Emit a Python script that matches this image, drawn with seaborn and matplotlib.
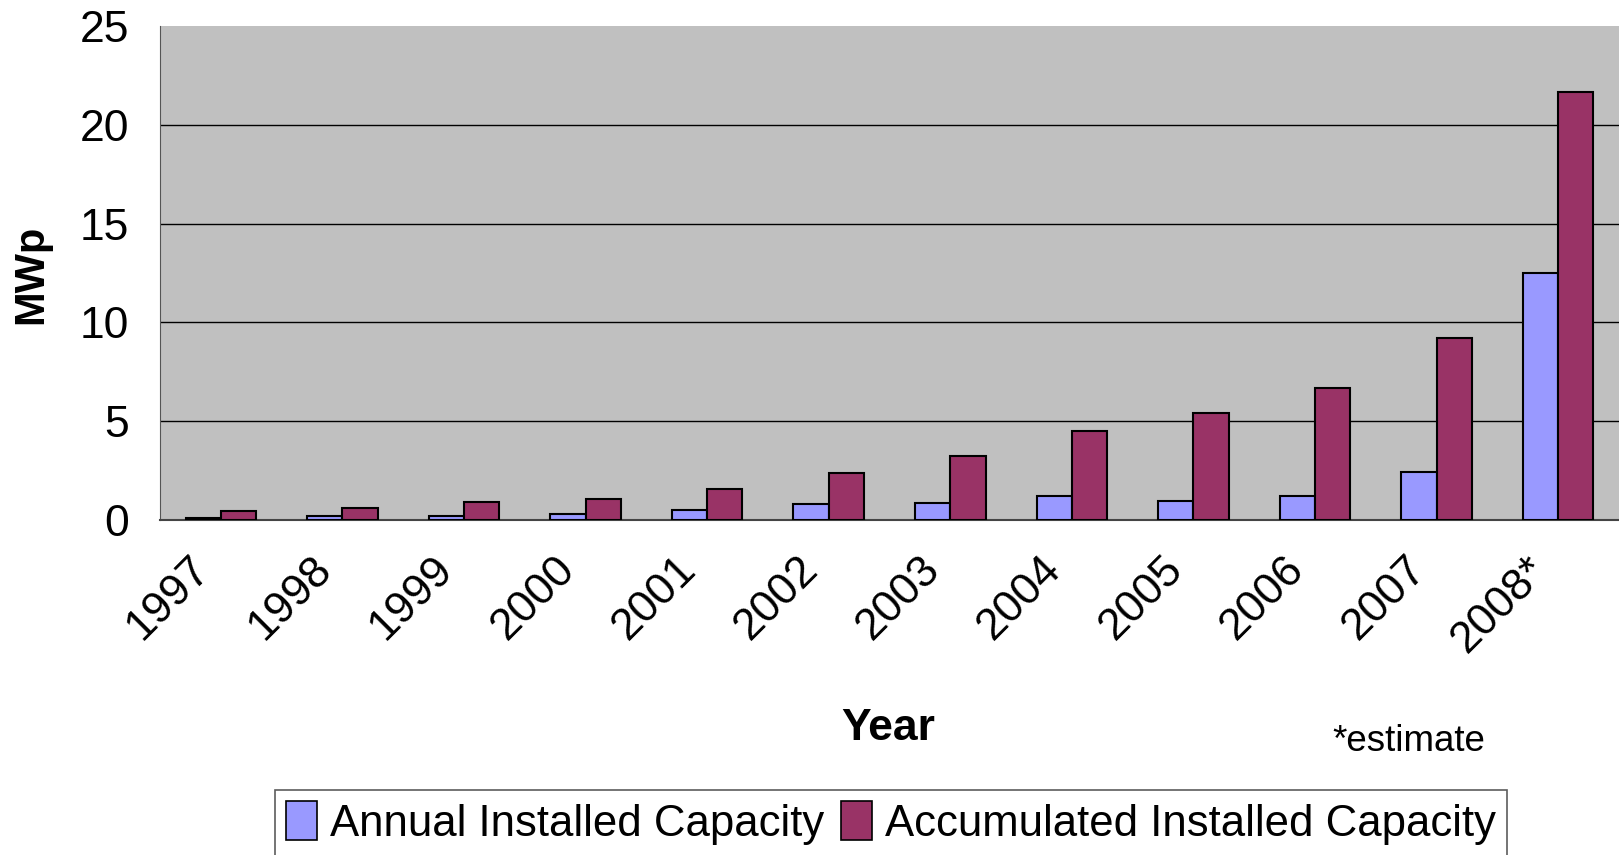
import numpy as np
import pandas as pd
import matplotlib
matplotlib.use("Agg")
import matplotlib.pyplot as plt
import matplotlib.transforms as mtransforms
import seaborn as sns
from matplotlib.patches import Patch

# values (MWp)
years = ["1997", "1998", "1999", "2000", "2001", "2002",
         "2003", "2004", "2005", "2006", "2007", "2008*"]
annual = [0.1, 0.2, 0.2, 0.29, 0.52, 0.79, 0.88, 1.22, 0.98, 1.22, 2.43, 12.5]
accumulated = [0.47, 0.63, 0.9, 1.06, 1.59, 2.36, 3.24, 4.48, 5.44, 6.66, 9.19, 21.67]
series = ["Annual Installed Capacity", "Accumulated Installed Capacity"]
colors = ["#9999FF", "#993366"]

df = pd.DataFrame({
    "Year": years * 2,
    "MWp": annual + accumulated,
    "Series": [series[0]] * len(years) + [series[1]] * len(years),
})

sns.set_style("white")
plt.rcParams["font.family"] = ["Liberation Sans", "DejaVu Sans"]
plt.rcParams["text.color"] = "black"
plt.rcParams["xtick.color"] = "black"
plt.rcParams["ytick.color"] = "black"

W, H = 1619, 855
fig = plt.figure(figsize=(W / 100, H / 100), dpi=100)
ax = fig.add_axes([160 / W, (H - 520) / H, (1619 - 160) / W, (520 - 26) / H])
ax.set_facecolor("#C0C0C0")

sns.barplot(data=df, x="Year", y="MWp", hue="Series", palette=colors,
            width=0.58, gap=0, edgecolor="black", linewidth=1.5,
            saturation=1, ax=ax, legend=False, zorder=3)

ax.set_ylim(0, 25)
ax.set_xlim(-0.5, len(years) - 0.5)
ax.set_yticks(np.arange(0, 26, 5))
for v in range(5, 25, 5):
    ax.axhline(v, color="black", lw=1.0, zorder=1)

# ticks at category boundaries
ax.set_xticks(np.arange(-0.5, len(years), 1.0), minor=True)
ax.tick_params(axis="x", which="minor", length=9.5, width=1, color="#444444", direction="out")
ax.tick_params(axis="x", which="major", length=0, pad=37)
ax.tick_params(axis="y", length=9.5, width=1, color="#444444", direction="out", labelsize=32, pad=13)
ax.set_xticks(range(len(years)))
ax.set_xticklabels(years, rotation=45, ha="right", va="baseline",
                   rotation_mode="anchor", fontsize=32)
shift = mtransforms.ScaledTranslation(-9 / 100, 0, fig.dpi_scale_trans)
for lab in ax.get_xticklabels():
    lab.set_transform(lab.get_transform() + shift)

for side in ["top", "right"]:
    ax.spines[side].set_visible(False)
ax.spines["left"].set_color("#555555")
ax.spines["bottom"].set_color("#444444")
ax.spines["bottom"].set_linewidth(1.5)

ax.set_xlabel("")
ax.set_ylabel("")
fig.text(888 / W, 1 - 728 / H, "Year", fontsize=32, fontweight="bold", ha="center", va="center")
fig.text(31 / W, 1 - 274 / H, "MWp", fontsize=30, fontweight="bold", rotation=90, ha="center", va="center")
fig.text(1409 / W, 1 - 741 / H, "*estimate", fontsize=26.5, ha="center", va="center")

handles = [Patch(facecolor=c, edgecolor="black", linewidth=1.2) for c in colors]
leg = fig.legend(handles, series, loc="center", bbox_to_anchor=(891 / W, 1 - 823 / H),
                 ncol=2, fontsize=31.5, frameon=True, fancybox=False, edgecolor="#333333",
                 handlelength=0.7, handleheight=1.0, handletextpad=0.3, columnspacing=0.4,
                 borderpad=0.25)
leg.get_frame().set_linewidth(1.2)

fig.savefig("out.png", dpi=100, facecolor="white")
